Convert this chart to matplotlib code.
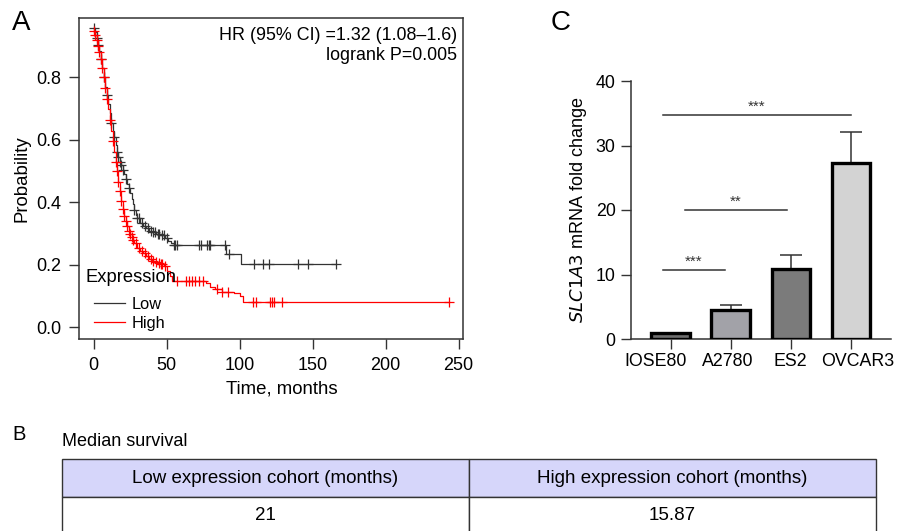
import numpy as np
import matplotlib
matplotlib.use('Agg')
import matplotlib.pyplot as plt
from matplotlib.lines import Line2D
from matplotlib.transforms import ScaledTranslation

plt.rcParams['font.family'] = ['Liberation Sans', 'DejaVu Sans']

# --- panel A: Kaplan-Meier ---
low_t = [0, 1, 2, 3, 4, 5, 6, 7, 8, 9, 10, 11, 12, 13, 14, 15, 16, 17, 18, 19,
         20, 21, 22, 23, 24, 25, 26, 27, 28, 29, 30, 32, 34, 36, 38, 40, 43, 46,
         49, 51, 53, 55, 91, 101]
low_p = [0.957, 0.945, 0.925, 0.905, 0.885, 0.86, 0.83, 0.80, 0.77, 0.745,
         0.715, 0.685, 0.655, 0.63, 0.61, 0.585, 0.56, 0.545, 0.53, 0.52, 0.505,
         0.49, 0.475, 0.46, 0.445, 0.43, 0.41, 0.395, 0.375, 0.36, 0.35, 0.335,
         0.325, 0.317, 0.31, 0.305, 0.30, 0.295, 0.285, 0.278, 0.27, 0.265,
         0.235, 0.202]
low_cens = [0.5, 2, 3, 5, 7, 9, 12, 14, 16, 17, 18, 19, 20, 22, 24, 28, 30, 31,
            33, 35, 37, 39, 41, 42, 44, 45, 47, 48, 50, 55, 56, 57, 72.5, 73.5,
            77.5, 79, 80, 90, 93, 110, 116, 120, 140, 147, 166]

high_t = [0, 1, 2, 3, 4, 5, 6, 7, 8, 9, 10, 11, 12, 13, 14, 15, 16, 17, 18, 19,
          20, 21, 22, 23, 24, 25, 26, 27, 28, 30, 32, 34, 36, 38, 40, 42, 44, 46,
          48, 50, 52, 54, 77, 80, 83, 88, 96, 100, 102]
high_p = [0.95, 0.935, 0.92, 0.9, 0.88, 0.86, 0.83, 0.8, 0.765, 0.73, 0.7,
          0.665, 0.63, 0.595, 0.56, 0.53, 0.5, 0.465, 0.435, 0.405, 0.38, 0.355,
          0.34, 0.325, 0.31, 0.3, 0.29, 0.28, 0.27, 0.255, 0.245, 0.237, 0.228,
          0.22, 0.213, 0.21, 0.207, 0.203, 0.195, 0.18, 0.165, 0.149, 0.141,
          0.13, 0.122, 0.114, 0.109, 0.1, 0.081]
high_cens = [0, 1, 2, 3, 4, 5, 6, 7, 8, 9, 11, 13, 15, 16, 17, 18, 19, 20, 21,
             22, 23, 24, 25, 26, 27, 29, 31, 33, 35, 37, 39, 41, 43, 45, 46, 47,
             49, 57, 63, 65, 67.5, 69.5, 72, 75, 84.5, 88, 92, 109, 111, 120.5,
             122, 123.3, 129, 243.5]

hr_text = 'HR (95% CI) =1.32 (1.08\u20131.6)'
logrank_text = 'logrank P=0.005'

# --- panel B: median survival table ---
table_header = ['Low expression cohort (months)', 'High expression cohort (months)']
table_values = ['21', '15.87']

# --- panel C: qPCR bars ---
cell_lines = ['IOSE80', 'A2780', 'ES2', 'OVCAR3']
fold_change = [1.0, 4.5, 10.8, 27.3]
fold_err = [0.0, 0.8, 2.3, 4.8]
bar_colors = ['#6e6e6e', '#a2a2a8', '#7b7b7b', '#d3d3d3']
sig_start = [-0.13, 0.24, -0.13]
sig_end = [0.9, 1.93, 3.0]
sig_height = [10.7, 20.0, 34.7]
sig_label = ['***', '**', '***']


def surv_at(t, p, x):
    t = np.asarray(t)
    p = np.asarray(p)
    idx = np.searchsorted(t, x, side='right') - 1
    return p[np.clip(idx, 0, len(p) - 1)]


W, H = 901, 531
fig = plt.figure(figsize=(W / 100, H / 100), dpi=100)

# ---------------- A ----------------
ax = fig.add_axes([79 / W, 1 - 339 / H, 384 / W, 321 / H])
for t, p, cens, col in [(low_t, low_p, low_cens, '#333333'),
                        (high_t, high_p, high_cens, 'red')]:
    tt = list(t) + [max(cens)]
    pp = list(p) + [p[-1]]
    ax.step(tt, pp, where='post', color=col, lw=0.9)
    ax.plot(cens, surv_at(t, p, cens), ls='none', marker='+', ms=7,
            mew=0.9, color=col)
ax.set_xlim(-10, 253)
ax.set_ylim(-0.037, 0.99)
ax.set_xticks([0, 50, 100, 150, 200, 250])
ax.set_yticks([0.0, 0.2, 0.4, 0.6, 0.8])
ax.set_yticklabels(['0.0', '0.2', '0.4', '0.6', '0.8'])
ax.tick_params(labelsize=13, length=7, width=1, direction='out', pad=6,
               color='#333333')
for s in ax.spines.values():
    s.set_linewidth(1.1)
    s.set_color('#333333')
ax.set_xlabel('Time, months', fontsize=13.4)
ax.xaxis.set_label_coords((281.7 - 79) / 384, -0.13)
ax.set_ylabel('Probability', fontsize=13.4)
ax.yaxis.set_label_coords(-0.125, 0.5)
ax.text(0.985, 0.947, hr_text, transform=ax.transAxes, ha='right', va='center',
        fontsize=12.9)
ax.text(0.985, 0.882, logrank_text, transform=ax.transAxes, ha='right',
        va='center', fontsize=12.9)
ax.text(0.018, 0.193, 'Expression', transform=ax.transAxes, ha='left',
        va='center', fontsize=13.2)
handles = [Line2D([], [], color='#333333', lw=0.9),
           Line2D([], [], color='red', lw=0.9)]
ax.legend(handles, ['Low', 'High'], frameon=False, loc='upper left',
          bbox_to_anchor=(0.008, 0.168), fontsize=11.8, handlelength=1.9,
          handletextpad=0.45, labelspacing=0.25, borderpad=0.2)
fig.text(12 / W, 1 - 23 / H, 'A', fontsize=20, va='center')

# ---------------- C ----------------
axc = fig.add_axes([631 / W, 1 - 339 / H, 260 / W, 258 / H])
x = np.arange(len(cell_lines))
axc.bar(x, fold_change, width=0.64, color=bar_colors, edgecolor='black',
        linewidth=2.4, zorder=3)
axc.errorbar(x[1:], fold_change[1:], yerr=[np.zeros(3), fold_err[1:]],
             fmt='none', ecolor='#333333', elinewidth=1.1, capsize=8,
             capthick=1.1, zorder=2)
for a, b, h, lab in zip(sig_start, sig_end, sig_height, sig_label):
    axc.plot([a, b], [h, h], color='#333333', lw=1.1)
    axc.text((a + b) / 2, h + 0.2, lab, ha='center', va='bottom', fontsize=11,
             color='#333333')
axc.set_xlim(-0.66, 3.67)
axc.set_ylim(0, 40)
axc.set_yticks([0, 10, 20, 30, 40])
axc.set_xticks(x)
axc.set_xticklabels(cell_lines)
for side in ['top', 'right']:
    axc.spines[side].set_visible(False)
for side in ['left', 'bottom']:
    axc.spines[side].set_linewidth(1.1)
    axc.spines[side].set_color('#333333')
axc.tick_params(axis='both', length=7, width=1, color='#333333', labelsize=12.8)
axc.tick_params(axis='y', pad=4)
axc.tick_params(axis='x', pad=3)
# labels are wider than the bar spacing, nudge the outer ones apart
shifts = [-15, -3, 0, 7]
for lab, dx in zip(axc.get_xticklabels(), shifts):
    lab.set_transform(lab.get_transform() + ScaledTranslation(dx / 100, 0, fig.dpi_scale_trans))
axc.set_ylabel(r'$\it{SLC1A3}$ mRNA fold change', fontsize=13)
axc.yaxis.set_label_coords(-0.16, 0.5)
fig.text(551 / W, 1 - 23 / H, 'C', fontsize=20, va='center')

# ---------------- B ----------------
fig.text(12 / W, 1 - 434 / H, 'B', fontsize=14.5, va='center')
fig.text(62 / W, 1 - 441 / H, 'Median survival', fontsize=13, va='center')
axt = fig.add_axes([62 / W, 1 - 535 / H, 814 / W, 76 / H])
axt.axis('off')
tbl = axt.table(cellText=[table_header, table_values], cellLoc='center',
                bbox=[0, 0, 1, 1])
tbl.auto_set_font_size(False)
for (r, c), cell in tbl.get_celld().items():
    cell.set_fontsize(13.5)
    cell.set_edgecolor('#333333')
    cell.set_linewidth(1.0)
    if r == 0:
        cell.set_facecolor('#d6d6fa')

fig.savefig('out.png', dpi=100)
